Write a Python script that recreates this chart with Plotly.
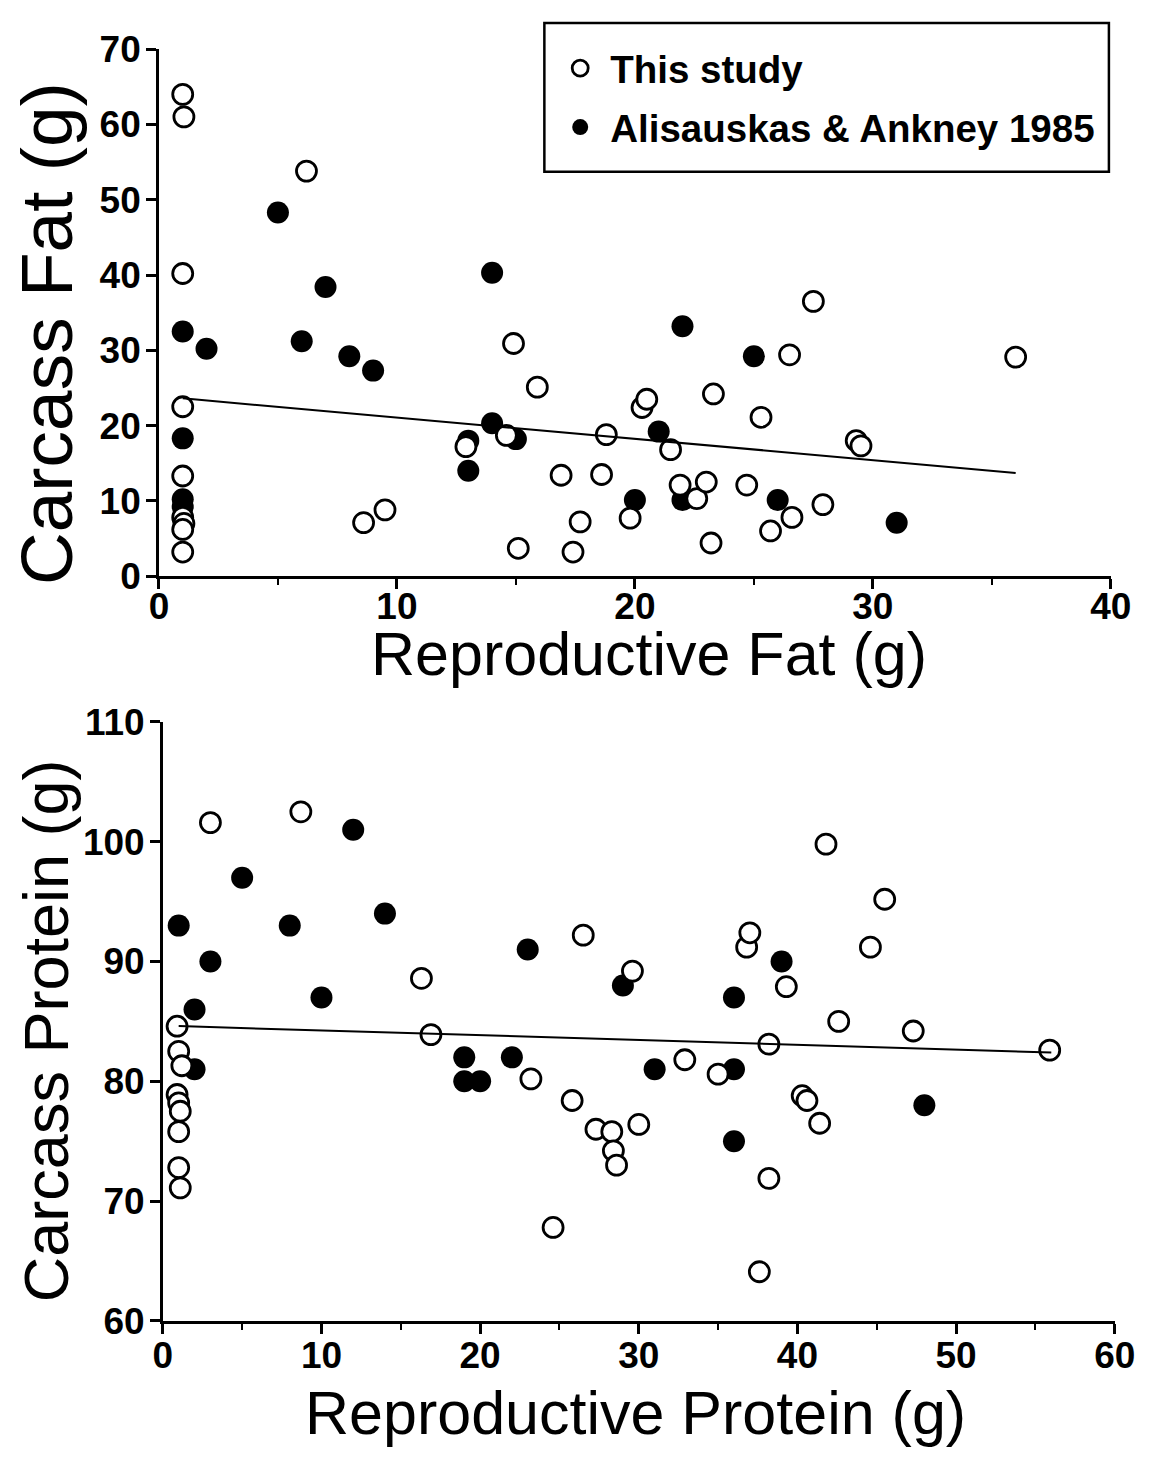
import plotly.graph_objects as go

# ---------------- data ----------------
# Upper panel: reproductive fat vs carcass fat (g)
fat_x_study = [1.0, 1.05, 1.0, 1.0, 1.0, 1.0, 1.05, 1.0, 1.0, 6.2, 8.6, 9.5, 14.9, 15.9,
               12.9, 14.6, 15.1, 16.9, 17.7, 17.4, 18.6, 18.8, 19.8, 20.3, 20.5, 21.5,
               21.9, 22.6, 23.0, 23.2, 23.3, 24.7, 25.3, 25.7, 26.5, 26.6, 27.5, 27.9,
               29.3, 29.5, 36.0]
fat_y_study = [64.0, 61.0, 40.2, 22.5, 13.3, 7.8, 7.0, 6.2, 3.2, 53.8, 7.1, 8.8, 30.9, 25.1,
               17.2, 18.7, 3.7, 13.4, 7.2, 3.2, 13.5, 18.8, 7.7, 22.4, 23.5, 16.8,
               12.1, 10.3, 12.5, 4.4, 24.2, 12.1, 21.1, 6.0, 29.4, 7.8, 36.5, 9.5,
               18.0, 17.3, 29.1]
fat_x_aa = [1, 2, 1, 1, 1, 5, 6, 7, 8, 9, 14, 14, 13, 13, 15, 20, 21, 22, 22, 25, 26, 31]
fat_y_aa = [32.5, 30.2, 18.3, 10.2, 9.2, 48.3, 31.2, 38.4, 29.2, 27.3, 40.3, 20.3, 18.0,
            14.0, 18.2, 10.1, 19.2, 33.2, 10.1, 29.2, 10.1, 7.1]
fat_fit_intercept = 23.9
fat_fit_slope = -0.283
fat_fit_x = [1, 36]

# Lower panel: reproductive protein vs carcass protein (g)
prot_x_study = [0.9, 1.0, 1.2, 0.9, 1.0, 1.1, 1.0, 1.0, 1.1, 3.0, 8.7, 16.3, 16.9, 23.2,
                24.6, 25.8, 26.5, 27.3, 28.3, 28.4, 28.6, 29.6, 30.0, 32.9, 35.0, 36.8,
                37.0, 37.6, 38.2, 38.2, 39.3, 40.3, 40.6, 41.4, 41.8, 42.6, 44.6, 45.5,
                47.3, 55.9]
prot_y_study = [84.6, 82.5, 81.3, 78.9, 78.2, 77.5, 75.8, 72.8, 71.1, 101.6, 102.5, 88.6,
                83.9, 80.2, 67.8, 78.4, 92.2, 76.0, 75.8, 74.2, 73.0, 89.2, 76.4, 81.8,
                80.6, 91.2, 92.4, 64.1, 83.1, 71.9, 87.9, 78.8, 78.4, 76.5, 99.8, 85.0,
                91.2, 95.2, 84.2, 82.6]
prot_x_aa = [1, 2, 2, 3, 5, 8, 10, 12, 14, 19, 19, 20, 22, 23, 29, 31, 36, 36, 36, 39, 48]
prot_y_aa = [93, 86, 81, 90, 97, 93, 87, 101, 94, 82, 80, 80, 82, 91, 88, 81, 87, 81, 75,
             90, 78]
prot_fit_intercept = 84.65
prot_fit_slope = -0.04
prot_fit_x = [1, 56]

series_names = ["This study", "Alisauskas & Ankney 1985"]

# ---------------- figure ----------------
W, H = 1163, 1478
FONT = "Liberation Sans, Arial, Helvetica, sans-serif"

open_marker = dict(symbol="circle", size=20, color="white",
                   line=dict(color="black", width=2.8))
filled_marker = dict(symbol="circle", size=22, color="black",
                     line=dict(color="black", width=0))

fig = go.Figure()


def add_panel(xs_aa, ys_aa, xs_st, ys_st, fit_x, b0, b1, xa, ya, legend):
    fig.add_trace(go.Scatter(x=xs_aa, y=ys_aa, mode="markers", marker=filled_marker,
                             name=series_names[1], legendgroup="aa", legendrank=2,
                             showlegend=legend, xaxis=xa, yaxis=ya))
    fig.add_trace(go.Scatter(x=xs_st, y=ys_st, mode="markers", marker=open_marker,
                             name=series_names[0], legendgroup="st", legendrank=1,
                             showlegend=legend, xaxis=xa, yaxis=ya))
    fig.add_trace(go.Scatter(x=fit_x, y=[b0 + b1 * v for v in fit_x], mode="lines",
                             line=dict(color="black", width=2), showlegend=False,
                             xaxis=xa, yaxis=ya, hoverinfo="skip"))


add_panel(fat_x_aa, fat_y_aa, fat_x_study, fat_y_study, fat_fit_x,
          fat_fit_intercept, fat_fit_slope, "x", "y", True)
add_panel(prot_x_aa, prot_y_aa, prot_x_study, prot_y_study, prot_fit_x,
          prot_fit_intercept, prot_fit_slope, "x2", "y2", False)


def px_x(p):
    return p / W


def px_y(p):
    return 1 - p / H


tick_font = dict(family=FONT, size=37, color="black", weight="bold")
axis_common = dict(showline=True, linecolor="black", linewidth=2.5, mirror=False,
                   ticks="outside", ticklen=10, tickwidth=2.5, tickcolor="black",
                   showgrid=False, zeroline=False, tickfont=tick_font, fixedrange=True)
x_minor = dict(ticks="outside", ticklen=6, tickwidth=2, tickcolor="black")

fig.update_layout(
    width=W, height=H,
    margin=dict(l=0, r=0, t=0, b=0),
    paper_bgcolor="white", plot_bgcolor="white",
    font=dict(family=FONT, color="black"),
    xaxis=dict(domain=[px_x(153), px_x(1131)], range=[0, 40], anchor="y",
               tickvals=[0, 10, 20, 30, 40], ticklabelstandoff=-14,
               minor=dict(tickvals=[5, 15, 25, 35], **x_minor),
               **axis_common),
    yaxis=dict(domain=[px_y(572), px_y(30)], range=[0, 70], anchor="x",
               tickvals=[0, 10, 20, 30, 40, 50, 60, 70], ticklabelstandoff=-2,
               **axis_common),
    xaxis2=dict(domain=[px_x(157), px_x(1135)], range=[0, 60], anchor="y2",
                tickvals=[0, 10, 20, 30, 40, 50, 60], ticklabelstandoff=-10,
                minor=dict(tickvals=[5, 15, 25, 35, 45, 55], **x_minor),
                **axis_common),
    yaxis2=dict(domain=[px_y(1338), px_y(722)], range=[60, 110], anchor="x2",
                tickvals=[60, 70, 80, 90, 100, 110], ticklabelstandoff=-2,
                **axis_common),
    legend=dict(x=px_x(555), y=px_y(17), xanchor="left", yanchor="top",
                bgcolor="rgba(0,0,0,0)", borderwidth=0,
                font=dict(family=FONT, size=38.5, color="black", weight="bold"),
                tracegroupgap=6, itemsizing="trace", itemwidth=50,
                traceorder="grouped"),
    showlegend=True,
)

# legend frame
fig.add_shape(type="rect", xref="paper", yref="paper",
              x0=px_x(549), x1=px_x(1129), y0=px_y(156), y1=px_y(3),
              line=dict(color="black", width=2.5), fillcolor="white", layer="below")

title_font = dict(family=FONT, size=61, color="black")
fig.add_annotation(text="Reproductive Fat (g)", x=px_x(657), y=px_y(652),
                   xref="paper", yref="paper", showarrow=False, font=title_font,
                   xanchor="center", yanchor="middle")
fig.add_annotation(text="Reproductive Protein (g)", x=px_x(643), y=px_y(1433),
                   xref="paper", yref="paper", showarrow=False, font=title_font,
                   xanchor="center", yanchor="middle")
fig.add_annotation(text="Carcass Fat (g)", x=px_x(37), y=px_y(323),
                   xref="paper", yref="paper", showarrow=False, font=dict(title_font, size=73),
                   textangle=-90, xanchor="center", yanchor="middle")
fig.add_annotation(text="Carcass Protein (g)", x=px_x(37), y=px_y(1040),
                   xref="paper", yref="paper", showarrow=False, font=dict(title_font, size=63),
                   textangle=-90, xanchor="center", yanchor="middle")

fig.write_html("out.html")
